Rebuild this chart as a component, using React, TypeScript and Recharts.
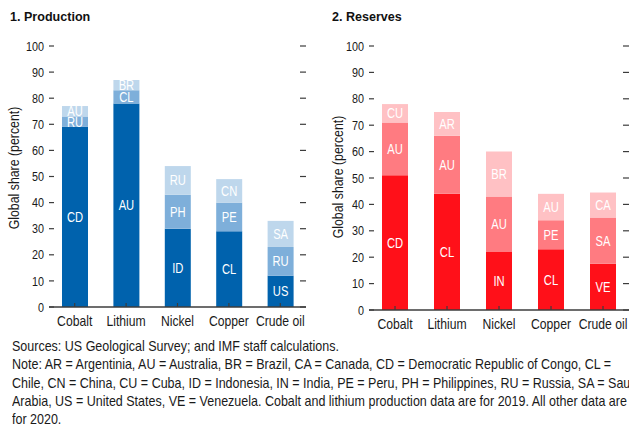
import { Bar, BarChart, XAxis, YAxis, LabelList } from 'recharts';

const categories = ['Cobalt', 'Lithium', 'Nickel', 'Copper', 'Crude oil'];
const yTicks = [0, 10, 20, 30, 40, 50, 60, 70, 80, 90, 100];

// production, largest producer first
const prodFirst = [69, 78, 30, 29, 12];
const prodSecond = [4, 5, 13, 11, 11];
const prodThird = [4, 4, 11, 9, 10];
const prodFirstCodes = ['CD', 'AU', 'ID', 'CL', 'US'];
const prodSecondCodes = ['RU', 'CL', 'PH', 'PE', 'RU'];
const prodThirdCodes = ['AU', 'BR', 'RU', 'CN', 'SA'];

// reserves
const resFirst = [51, 44, 22, 23, 17.5];
const resSecond = [20, 22, 21, 11, 17.5];
const resThird = [7, 9, 17, 10, 9.5];
const resFirstCodes = ['CD', 'CL', 'IN', 'CL', 'VE'];
const resSecondCodes = ['AU', 'AU', 'AU', 'PE', 'SA'];
const resThirdCodes = ['CU', 'AR', 'BR', 'AU', 'CA'];

const build = (a: number[], b: number[], c: number[], la: string[], lb: string[], lc: string[]) =>
    categories.map((name, i) => ({ name, s1: a[i], s2: b[i], s3: c[i], l1: la[i], l2: lb[i], l3: lc[i] }));

const prodData = build(prodFirst, prodSecond, prodThird, prodFirstCodes, prodSecondCodes, prodThirdCodes);
const resData = build(resFirst, resSecond, resThird, resFirstCodes, resSecondCodes, resThirdCodes);

// no narrow font installed, so texts are squeezed horizontally
const FONT = '"Liberation Sans", Arial, sans-serif';
const AXIS = '#3c3c3c';

const YTick = (props: any) => {
    const { x, y, payload, plotWidth } = props;
    return (
        <g>
            <line x1={x} x2={x + 5} y1={y} y2={y} stroke={AXIS} strokeWidth={1.2} />
            <line x1={x + plotWidth - 6} x2={x + plotWidth} y1={y} y2={y} stroke={AXIS} strokeWidth={1.2} />
            <text
                transform={`translate(${x - 5} ${y}) scale(0.83 1)`}
                dy="0.36em"
                textAnchor="end"
                fontSize={13}
                fill="#1a1a1a"
                fontFamily={FONT}
            >
                {payload.value}
            </text>
        </g>
    );
};

const XTick = (props: any) => {
    const { x, y, payload } = props;
    return (
        <g>
            <line x1={x} x2={x} y1={y - 4} y2={y} stroke={AXIS} strokeWidth={1.2} />
            <text
                transform={`translate(${x} ${y + 18.5}) scale(0.84 1)`}
                textAnchor="middle"
                fontSize={14.5}
                fill="#1a1a1a"
                fontFamily={FONT}
            >
                {payload.value}
            </text>
        </g>
    );
};

const SegLabel = (props: any) => {
    const vb = props.viewBox && props.viewBox.width !== undefined ? props.viewBox : props;
    const cx = vb.x + vb.width / 2;
    const cy = vb.y + vb.height / 2;
    return (
        <text
            transform={`translate(${cx} ${cy}) scale(0.8 1)`}
            dy="0.36em"
            textAnchor="middle"
            fontSize={14}
            fill="#fff"
            fontFamily={FONT}
        >
            {props.value}
        </text>
    );
};

type PanelProps = {
    data: any[];
    colors: string[];
    width: number;
    plotWidth: number;
    bottom: number;
};

const Panel = ({ data, colors, width, plotWidth, bottom }: PanelProps) => (
    <BarChart width={width} height={340} data={data} margin={{ top: 46, right: width - 49 - plotWidth, bottom, left: 0 }}>
        <YAxis
            type="number"
            domain={[0, 100]}
            ticks={yTicks}
            interval={0}
            width={49}
            axisLine={false}
            tickLine={false}
            tickSize={0}
            tickMargin={0}
            tick={<YTick plotWidth={plotWidth} />}
        />
        <Bar dataKey="s1" stackId="a" fill={colors[0]} barSize={26} isAnimationActive={false}>
            <LabelList dataKey="l1" content={<SegLabel />} />
        </Bar>
        <Bar dataKey="s2" stackId="a" fill={colors[1]} barSize={26} isAnimationActive={false}>
            <LabelList dataKey="l2" content={<SegLabel />} />
        </Bar>
        <Bar dataKey="s3" stackId="a" fill={colors[2]} barSize={26} isAnimationActive={false}>
            <LabelList dataKey="l3" content={<SegLabel />} />
        </Bar>
        <XAxis
            dataKey="name"
            height={30}
            interval={0}
            axisLine={{ stroke: AXIS, strokeWidth: 1.5 }}
            tickLine={false}
            tickSize={0}
            tickMargin={0}
            tick={<XTick />}
        />
    </BarChart>
);

const titleStyle = {
    position: 'absolute' as const,
    top: 9,
    fontSize: 13.5,
    fontWeight: 700,
    color: '#111',
    whiteSpace: 'nowrap' as const,
    transform: 'scaleX(0.93)',
    transformOrigin: 'left center',
};
const yLabelStyle = {
    position: 'absolute' as const,
    width: 200,
    textAlign: 'center' as const,
    fontSize: 14,
    lineHeight: '18px',
    color: '#1a1a1a',
    transform: 'rotate(-90deg) scaleX(0.88)',
    whiteSpace: 'nowrap' as const,
};

const notes = [
    'Sources: US Geological Survey; and IMF staff calculations.',
    'Note: AR = Argentinia, AU = Australia, BR = Brazil, CA = Canada, CD = Democratic Republic of Congo, CL =',
    'Chile, CN = China, CU = Cuba, ID = Indonesia, IN = India, PE = Peru, PH = Philippines, RU = Russia, SA = Saudi',
    'Arabia, US = United States, VE = Venezuela. Cobalt and lithium production data are for 2019. All other data are',
    'for 2020.',
];

export default function App() {
    return (
        <div
            style={{
                position: 'fixed',
                left: 0,
                top: 0,
                width: 629,
                height: 436,
                background: '#fff',
                fontFamily: FONT,
                overflow: 'hidden',
            }}
        >
            <div style={{ ...titleStyle, left: 10 }}>1. Production</div>
            <div style={{ ...titleStyle, left: 332 }}>2. Reserves</div>
            <div style={{ ...yLabelStyle, left: 14 - 100, top: 168 - 9 }}>Global share (percent)</div>
            <div style={{ ...yLabelStyle, left: 338 - 100, top: 177 - 9 }}>Global share (percent)</div>
            <div style={{ position: 'absolute', left: 0, top: 0 }}>
                <Panel data={prodData} colors={['#0062AD', '#7EAFDA', '#BED7EC']} width={320} plotWidth={257} bottom={3} />
            </div>
            <div style={{ position: 'absolute', left: 320, top: 0 }}>
                <Panel data={resData} colors={['#FF1019', '#FF7B81', '#FFC1C4']} width={309} plotWidth={260} bottom={0} />
            </div>
            <div
                style={{
                    position: 'absolute',
                    left: 12,
                    top: 337,
                    fontSize: 14.5,
                    lineHeight: '18.3px',
                    color: '#1a1a1a',
                    transform: 'scaleX(0.862)',
                    transformOrigin: 'left top',
                }}
            >
                {notes.map((t) => (
                    <div key={t} style={{ whiteSpace: 'nowrap' }}>{t}</div>
                ))}
            </div>
        </div>
    );
}
